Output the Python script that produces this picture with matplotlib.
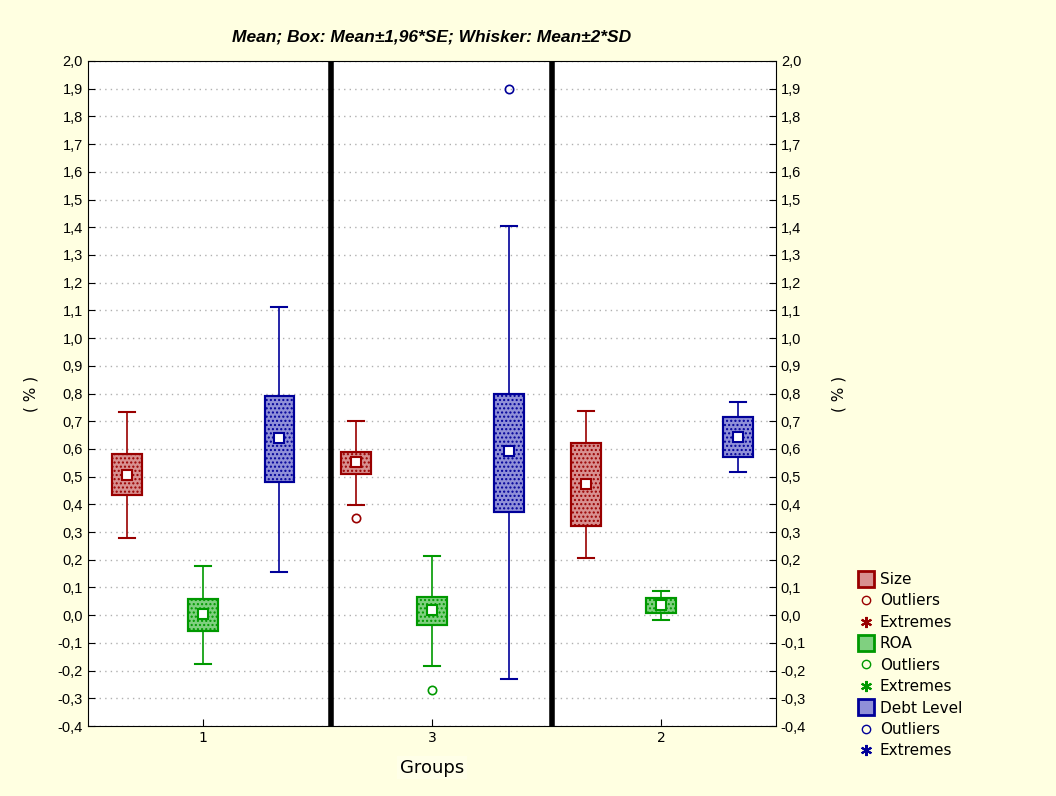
"""Box-whisker chart: Mean; Box: Mean±1,96*SE; Whisker: Mean±2*SD per groep."""
import matplotlib.pyplot as plt
import numpy as np
from matplotlib.lines import Line2D
from matplotlib.patches import Rectangle

groups = ["1", "3", "2"]
variables = ["Size", "ROA", "Debt Level"]

# per variabele: waarden per groep (volgorde 1, 3, 2)
means = {
    "Size": [0.505, 0.552, 0.473],
    "ROA": [0.004, 0.018, 0.036],
    "Debt Level": [0.640, 0.592, 0.643],
}
box_low = {
    "Size": [0.433, 0.509, 0.321],
    "ROA": [-0.058, -0.036, 0.007],
    "Debt Level": [0.480, 0.372, 0.570],
}
box_high = {
    "Size": [0.580, 0.588, 0.620],
    "ROA": [0.058, 0.065, 0.061],
    "Debt Level": [0.790, 0.798, 0.715],
}
whisk_low = {
    "Size": [0.278, 0.397, 0.206],
    "ROA": [-0.177, -0.184, -0.018],
    "Debt Level": [0.155, -0.231, 0.516],
}
whisk_high = {
    "Size": [0.733, 0.700, 0.736],
    "ROA": [0.177, 0.213, 0.087],
    "Debt Level": [1.112, 1.404, 0.769],
}
# uitschieters: (groep-index, waarde)
outliers = {
    "Size": [(1, 0.35)],
    "ROA": [(1, -0.27)],
    "Debt Level": [(1, 1.90)],
}

edge_colors = {"Size": "#990000", "ROA": "#009900", "Debt Level": "#000099"}
fill_colors = {"Size": "#D89090", "ROA": "#80D080", "Debt Level": "#9090D8"}
offsets = {"Size": -0.33, "ROA": 0.0, "Debt Level": 0.335}

bg = "#FFFFE1"
fig = plt.figure(figsize=(10.56, 7.96), dpi=100, facecolor=bg)
ax = fig.add_axes([0.0833, 0.0879, 0.6515, 0.8355])
ax.set_facecolor("white")

box_w = 0.13
cap_w = 0.07
x = np.arange(len(groups))

for var in variables:
    ec = edge_colors[var]
    for i in x:
        xc = i + offsets[var]
        lo, hi = box_low[var][i], box_high[var][i]
        # whiskers
        ax.plot([xc, xc], [whisk_low[var][i], lo], color=ec, lw=1.2, zorder=3)
        ax.plot([xc, xc], [hi, whisk_high[var][i]], color=ec, lw=1.2, zorder=3)
        for w in (whisk_low[var][i], whisk_high[var][i]):
            ax.plot([xc - cap_w / 2, xc + cap_w / 2], [w, w], color=ec, lw=1.5, zorder=3)
        # box met stippelpatroon
        ax.add_patch(Rectangle((xc - box_w / 2, lo), box_w, hi - lo,
                               facecolor=fill_colors[var], edgecolor=ec,
                               lw=1.5, hatch="....", zorder=4))
        ax.add_patch(Rectangle((xc - box_w / 2, lo), box_w, hi - lo,
                               facecolor="none", edgecolor=ec, lw=1.5, zorder=5))
        ax.plot(xc, means[var][i], marker="s", ms=7, mfc="white", mec=ec,
                mew=1.5, zorder=6)
    for gi, val in outliers[var]:
        ax.plot(gi + offsets[var], val, marker="o", ms=6, mfc="none", mec=ec,
                mew=1.2, zorder=6)

# scheidingslijnen tussen groepen
for sep in (0.56, 1.525):
    ax.axvline(sep, color="black", lw=4, zorder=7)

ax.set_xlim(-0.5, 2.5)
ax.set_ylim(-0.4, 2.0)
yt = np.round(np.arange(-0.4, 2.01, 0.1), 1) + 0.0
ylabels = [f"{v:.1f}".replace(".", ",").replace("-0,0", "0,0") for v in yt]
ax.set_yticks(yt)
ax.set_yticklabels(ylabels, fontname="Liberation Sans", fontsize=10.5)
ax.set_xticks(x)
ax.set_xticklabels(groups, fontname="DejaVu Sans", fontsize=10)
ax.tick_params(direction="in", length=5, right=True, labelright=True)
ax.grid(axis="y", ls=(0, (1, 3)), color="#B0B0B0", lw=1)
ax.set_axisbelow(True)

ax.set_ylabel("( % )", fontsize=11, labelpad=14)
ax2 = ax.secondary_yaxis("right")
ax2.set_yticks([])
ax2.set_ylabel("( % )", fontsize=11, labelpad=40)
ax2.spines["right"].set_visible(False)

ax.set_title("Mean; Box: Mean±1,96*SE; Whisker: Mean±2*SD",
             fontname="Liberation Sans", fontsize=12.5, fontweight="bold",
             style="italic", pad=14)
ax.set_xlabel("Groups", fontsize=13, labelpad=10,
              bbox=dict(facecolor="#FFFFE8", edgecolor="none", pad=2))

handles = []
labels = []
for var in variables:
    ec = edge_colors[var]
    handles.append(Line2D([], [], ls="none", marker="s", ms=11,
                          mfc=fill_colors[var], mec=ec, mew=2))
    labels.append(var)
    handles.append(Line2D([], [], ls="none", marker="o", ms=6, mfc="none", mec=ec))
    labels.append("Outliers")
    handles.append(Line2D([], [], ls="none", marker=(6, 2, 0), ms=8, mec=ec, mew=1.5))
    labels.append("Extremes")
fig.legend(handles, labels, loc="lower left", bbox_to_anchor=(0.8, 0.03),
           frameon=False, fontsize=11, handlelength=1.0, handletextpad=0.4,
           labelspacing=0.42)

fig.savefig("out.png", dpi=100, facecolor=bg)
